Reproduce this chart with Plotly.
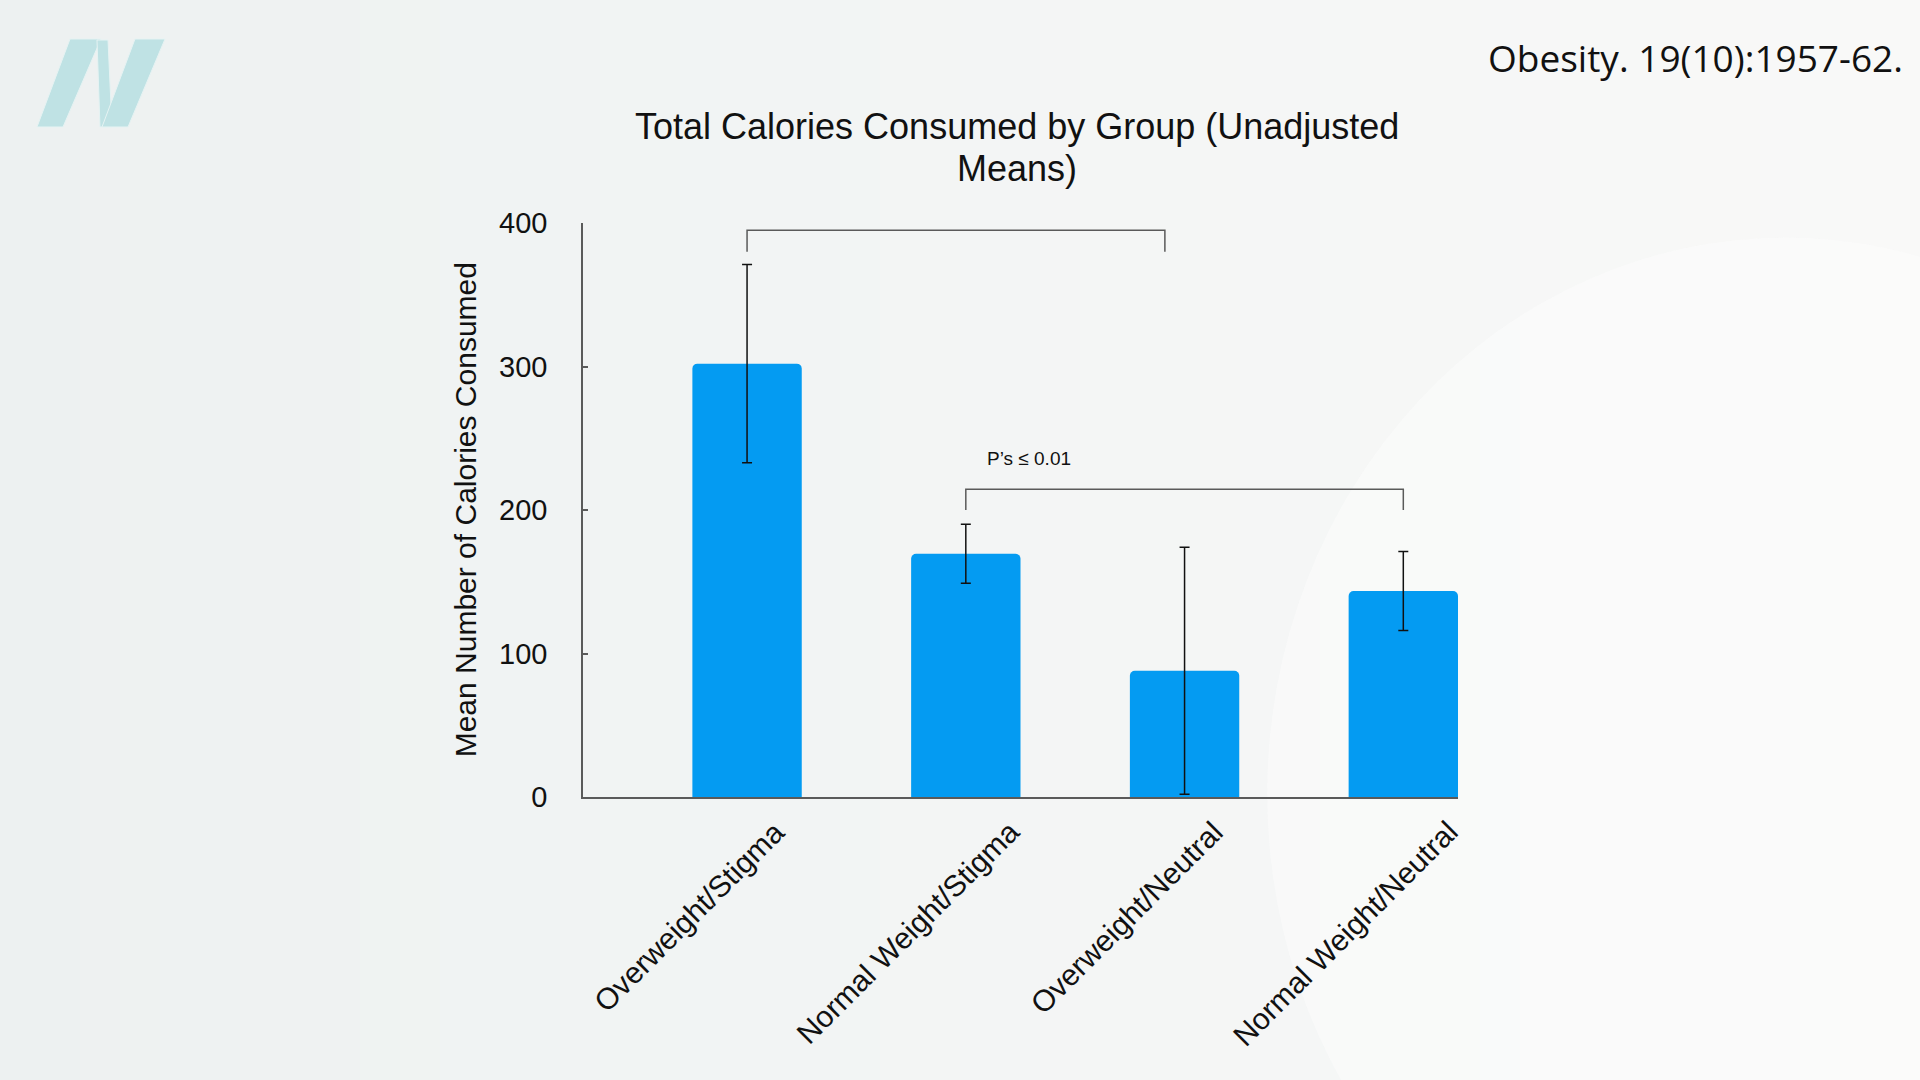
import plotly.graph_objects as go

# data
groups = ["Overweight/Stigma", "Normal Weight/Stigma", "Overweight/Neutral", "Normal Weight/Neutral"]
mean_kcal = [302, 169.5, 88, 143.5]
err_kcal = [69, 20.5, 86, 27.5]
y_ticks = [0, 100, 200, 300, 400]

# significance brackets: (from group idx, to position, top value, tick end value)
bracket_x0 = [0, 1]
bracket_x1 = [1.91, 3]
bracket_top = [395, 214.5]
bracket_foot = [380, 200]
sig_label = "P\u2019s \u2264 0.01"
sig_pos = (1.29, 236)

citation = "Obesity. 19(10):1957-62."
title_lines = ["Total Calories Consumed by Group (Unadjusted", "Means)"]
y_title = "Mean Number of Calories Consumed"

W, H = 1920, 1080
FONT = "Liberation Sans, Arial, Helvetica, sans-serif"
BLUE = "#049bf2"
LINE = "#5a5a5a"


def px(x, y):
    # pixel -> paper coords
    return x / W, 1 - y / H


fig = go.Figure()
fig.add_trace(go.Bar(
    x=list(range(len(groups))),
    y=mean_kcal,
    marker=dict(color=BLUE, cornerradius=5, line=dict(width=0)),
    error_y=dict(type="data", array=err_kcal, color="#111111", thickness=1.5, width=5),
    width=0.5,
    showlegend=False,
    hoverinfo="skip",
))

shapes = []

# background: soft left-to-right lightening
n_bands = 48
c0, c1 = (237, 241, 241), (249, 249, 248)
for i in range(n_bands):
    t = i / (n_bands - 1)
    col = tuple(round(a + (b - a) * t) for a, b in zip(c0, c1))
    shapes.append(dict(type="rect", xref="paper", yref="paper", layer="below",
                       x0=i / n_bands, x1=(i + 1) / n_bands + 0.002, y0=0, y1=1,
                       fillcolor="rgb(%d,%d,%d)" % col, line=dict(width=0)))
shapes.append(dict(type="circle", xref="paper", yref="paper", layer="below",
                   x0=0.66, x1=1.2, y0=-0.25, y1=0.78,
                   fillcolor="#fcfcfb", line=dict(width=0), opacity=0.6))

for x0, x1, top, foot in zip(bracket_x0, bracket_x1, bracket_top, bracket_foot):
    shapes.append(dict(
        type="path", xref="x", yref="y",
        path=f"M {x0} {foot} L {x0} {top} L {x1} {top} L {x1} {foot}",
        line=dict(color=LINE, width=1.5),
    ))

# "N" logo, top-left
logo_parts = [
    [(70, 39), (101, 39), (63, 127), (37, 127)],
    [(97, 40), (108, 40), (112, 127), (100, 127)],
    [(135, 39), (165, 39), (128, 127), (102, 127)],
]
for poly in logo_parts:
    pts = [px(*p) for p in poly]
    path = "M " + " L ".join(f"{a:.5f} {b:.5f}" for a, b in pts) + " Z"
    shapes.append(dict(type="path", xref="paper", yref="paper", path=path,
                       fillcolor="#bfe2e4", line=dict(color="#e6f3f3", width=1)))

annotations = [
    dict(text=sig_label, x=sig_pos[0], y=sig_pos[1], xref="x", yref="y",
         showarrow=False, font=dict(family=FONT, size=19, color="#111111")),
    dict(text=y_title, x=465 / W, y=0.5275, xref="paper", yref="paper",
         textangle=-90, showarrow=False, xanchor="center", yanchor="middle",
         font=dict(family=FONT, size=30, color="#111111")),
    dict(text=citation, x=1905 / W, y=1 - 58 / H, xref="paper", yref="paper",
         showarrow=False, xanchor="right", yanchor="middle",
         font=dict(family="Open Sans, Noto Sans, sans-serif", size=37, color="#111111")),
]

# two-line chart title (tighter line spacing than plotly's title)
for line, ypx in zip(title_lines, [126, 168]):
    annotations.append(dict(text=line, x=1017 / W, y=1 - ypx / H, xref="paper", yref="paper",
                            showarrow=False, xanchor="center", yanchor="middle",
                            font=dict(family=FONT, size=36, color="#111111")))

# rotated category labels: box centred left of each bar, tops aligned
for i, g in enumerate(groups):
    annotations.append(dict(text=g, x=i, y=0, xref="x", yref="y",
                            textangle=-45, showarrow=False,
                            xanchor="center", yanchor="top",
                            xshift=-58, yshift=-15,
                            font=dict(family=FONT, size=30, color="#111111")))

fig.update_layout(
    width=W, height=H,
    margin=dict(l=0, r=0, t=0, b=0),
    paper_bgcolor="#f0f2f2",
    plot_bgcolor="rgba(0,0,0,0)",
    font=dict(family=FONT, color="#111111"),
    xaxis=dict(
        domain=[583 / W, 1458 / W],
        range=[-0.75, 3.25],
        tickvals=list(range(len(groups))),
        showticklabels=False,
        showline=True, linecolor=LINE, linewidth=1.5,
        ticks="", showgrid=False, zeroline=False,
        automargin=False,
    ),
    yaxis=dict(
        domain=[1 - 797 / H, 1 - 223 / H],
        range=[0, 400],
        tickvals=y_ticks,
        tickfont=dict(family=FONT, size=29, color="#111111"),
        showline=True, linecolor=LINE, linewidth=1.5,
        ticks="inside", ticklen=5, tickcolor=LINE, tickwidth=1.5,
        ticklabelstandoff=28,
        showgrid=False, zeroline=False,
        automargin=False,
    ),
    shapes=shapes,
    annotations=annotations,
)

fig.write_html("out.html", config={"displayModeBar": False},
               post_script="document.body.style.margin='0';document.body.style.overflow='hidden';")
